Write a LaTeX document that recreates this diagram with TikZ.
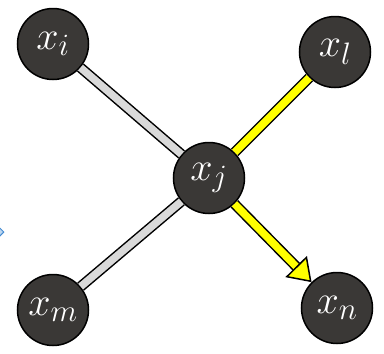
\RequirePackage{fix-cm}
\documentclass[tikz,border=0pt]{standalone}
\usepackage{amsmath}
\usepackage{tikz}
\usetikzlibrary{arrows.meta,shapes.geometric}
\DeclareMathSizes{40}{40}{31}{25}
\definecolor{nodegray}{RGB}{58,56,54}
\definecolor{edgegray}{RGB}{217,217,217}
\definecolor{hlyellow}{RGB}{255,255,0}
\definecolor{cutblue}{RGB}{70,140,210}
\tikzset{
  var/.style={circle, draw=black, line width=1.5pt, fill=nodegray, text=white, minimum size=71pt, inner sep=0pt, font=\fontsize{40}{40}\selectfont},
  link/.style={draw=black, line width=1.5pt, double=edgegray, double distance=7.5pt},
  hot/.style={link, double=hlyellow},
  hotarr/.style={hot, -{Triangle[length=22pt,width=30pt,fill=hlyellow,line width=1.5pt]}},
}

\begin{document}
\begin{tikzpicture}[x=1pt, y=-1pt]
  \useasboundingbox (0,0) rectangle (384,354);
  \clip (0,0) rectangle (384,354);
  % blue piece cut off at the left edge
  \node[diamond, draw=cutblue, fill=cutblue!35, line width=1pt, minimum size=22pt] (cut) at (-7,232) {};
  \node[var] (xi) at (53,44) {$x_i$};
  \node[var] (xl) at (335,52) {$x_l$};
  \node[var] (xj) at (209,178) {$x_j$};
  \node[var] (xm) at (53,310) {$x_m$};
  \node[var] (xn) at (337,308) {$x_n$};
  \draw[link] (xi) -- (xj);
  \draw[link] (xm) -- (xj);
  \draw[hot] (xl) -- (xj);
  \draw[hotarr] (xj) -- (xn);
\end{tikzpicture}
\end{document}
